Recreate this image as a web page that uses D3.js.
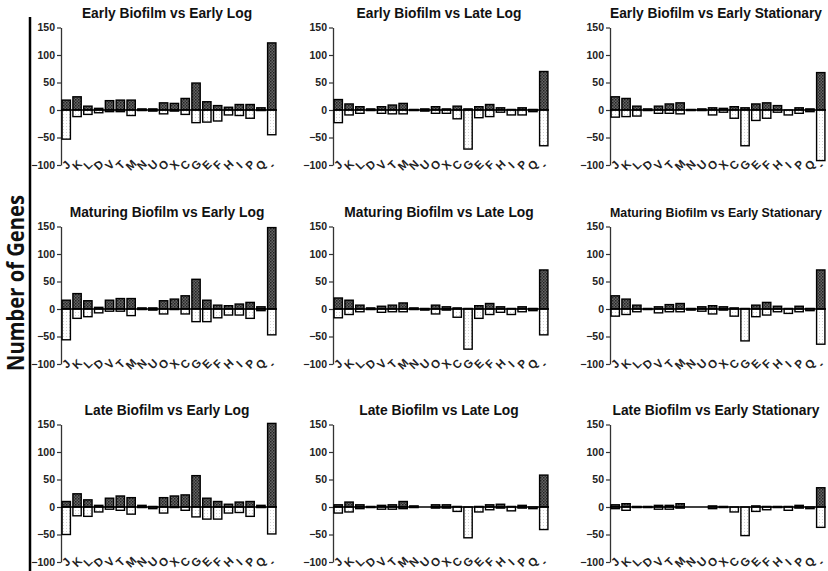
<!DOCTYPE html>
<html>
<head>
<meta charset="utf-8">
<script src="https://cdn.jsdelivr.net/npm/d3@7"></script>
<style>
body { margin: 0; background: #fff; }
</style>
</head>
<body>
<div id="chart"></div>
<script>
// categories COG
const categories = ["J","K","L","D","V","T","M","N","U","O","X","C","G","E","F","H","I","P","Q","-"];
const yTicks = [150, 100, 50, 0, -50, -100];
const titles = [
  "Early Biofilm vs Early Log", "Early Biofilm vs Late Log", "Early Biofilm vs Early Stationary",
  "Maturing Biofilm vs Early Log", "Maturing Biofilm vs Late Log", "Maturing Biofilm vs Early Stationary",
  "Late Biofilm vs Early Log", "Late Biofilm vs Late Log", "Late Biofilm vs Early Stationary"
];

// up = genes up, down = genes down
const upEarlyEL   = [18, 24, 7, 3, 17, 18, 18, 2, 2, 13, 12, 21, 49, 15, 8, 5, 10, 10, 4, 122];
const downEarlyEL = [-53, -12, -8, -5, -3, -3, -10, -1, -2, -7, -2, -8, -23, -22, -20, -9, -10, -15, -1, -45];
const upEarlyLL   = [19, 11, 6, 2, 6, 9, 12, 1, 2, 6, 2, 7, 2, 6, 10, 4, 1, 4, 1, 70];
const downEarlyLL = [-23, -9, -6, -1, -6, -7, -7, -1, -2, -6, -6, -16, -71, -14, -12, -4, -9, -9, -3, -65];
const upEarlyES   = [24, 21, 7, 2, 7, 11, 13, 1, 2, 4, 3, 6, 4, 11, 13, 8, 0, 4, 2, 68];
const downEarlyES = [-13, -12, -11, -1, -6, -6, -7, -1, -1, -9, -4, -15, -65, -19, -15, -4, -9, -6, -3, -92];

const upMatEL   = [16, 28, 15, 3, 16, 19, 19, 2, 2, 15, 18, 24, 54, 16, 7, 6, 9, 12, 4, 148];
const downMatEL = [-56, -17, -14, -7, -4, -4, -12, -1, -2, -9, -1, -9, -23, -23, -16, -11, -11, -17, -3, -47];
const upMatLL   = [20, 16, 7, 2, 5, 7, 11, 2, 1, 7, 4, 2, 1, 6, 10, 4, 1, 4, 1, 71];
const downMatLL = [-16, -10, -5, -1, -6, -5, -5, -1, -2, -9, -2, -15, -73, -17, -10, -6, -10, -5, -3, -47];
const upMatES   = [24, 18, 7, 1, 4, 8, 10, 1, 4, 6, 4, 2, 1, 7, 12, 5, 1, 5, 1, 71];
const downMatES = [-13, -10, -5, -1, -7, -5, -5, -2, -4, -9, -2, -13, -58, -14, -11, -5, -8, -5, -3, -64];

const upLateEL   = [10, 24, 13, 3, 16, 20, 17, 3, 1, 17, 20, 22, 57, 16, 10, 5, 9, 10, 3, 152];
const downLateEL = [-50, -16, -17, -9, -4, -6, -13, -1, -3, -11, -1, -6, -18, -22, -22, -11, -10, -17, -1, -49];
const upLateLL   = [4, 9, 4, 1, 3, 4, 10, 2, 0, 4, 4, 1, 0, 1, 4, 5, 1, 3, 0, 58];
const downLateLL = [-11, -9, -3, -1, -4, -4, -3, -1, 0, -2, -2, -8, -56, -9, -5, -2, -7, -2, -3, -41];
const upLateES   = [4, 6, 1, 1, 3, 3, 6, 0, 0, 2, 1, 0, 0, 2, 1, 1, 1, 3, 0, 35];
const downLateES = [-3, -6, -1, -1, -4, -4, -2, 0, 0, -3, -1, -9, -52, -8, -5, -1, -6, -2, -3, -37];

const panels = [
  [upEarlyEL, downEarlyEL], [upEarlyLL, downEarlyLL], [upEarlyES, downEarlyES],
  [upMatEL, downMatEL], [upMatLL, downMatLL], [upMatES, downMatES],
  [upLateEL, downLateEL], [upLateLL, downLateLL], [upLateES, downLateES]
];

// mise en page
const width = 828, height = 571;
const colX = [61, 333, 610];
const rowZero = [110, 309, 507];
const plotW = 216;

const svg = d3.select("#chart").append("svg")
  .attr("width", width)
  .attr("height", height)
  .style("font-family", "'Liberation Sans', Arial, sans-serif");

const defs = svg.append("defs");
const pDark = defs.append("pattern").attr("id", "darkFill")
  .attr("width", 3).attr("height", 3).attr("patternUnits", "userSpaceOnUse");
pDark.append("rect").attr("width", 3).attr("height", 3).attr("fill", "#656565");
pDark.append("rect").attr("width", 1.5).attr("height", 1.5).attr("fill", "#222");
pDark.append("rect").attr("x", 1.5).attr("y", 1.5).attr("width", 1.5).attr("height", 1.5).attr("fill", "#333");
const pLight = defs.append("pattern").attr("id", "lightFill")
  .attr("width", 3).attr("height", 3).attr("patternUnits", "userSpaceOnUse");
pLight.append("rect").attr("width", 3).attr("height", 3).attr("fill", "#fff");
pLight.append("rect").attr("width", 1).attr("height", 1).attr("fill", "#d4d4d4");

// grand axe a gauche
svg.append("line")
  .attr("x1", 30).attr("x2", 30).attr("y1", 17).attr("y2", height)
  .attr("stroke", "#000").attr("stroke-width", 2.5);
svg.append("text")
  .attr("transform", "translate(14.5,283) rotate(-90)")
  .attr("text-anchor", "middle")
  .attr("dominant-baseline", "central")
  .attr("textLength", 176)
  .attr("lengthAdjust", "spacingAndGlyphs")
  .style("font-family", "'Open Sans', sans-serif")
  .style("font-weight", "bold")
  .style("font-size", "23px")
  .attr("fill", "#111")
  .text("Number of Genes");

panels.forEach((p, i) => {
  const ax = colX[i % 3];
  const zero = rowZero[Math.floor(i / 3)];
  const up = p[0], down = p[1];

  const y = d3.scaleLinear().domain([-100, 150]).range([zero + 55, zero - 82.5]);
  const x = d3.scaleBand().domain(categories)
    .range([ax, ax + plotW])
    .paddingInner(0.23)
    .paddingOuter(0.1);

  const g = svg.append("g");

  const cx = ax + 106;
  const titre = g.append("text")
    .attr("x", cx)
    .attr("y", y(150) - 10)
    .attr("text-anchor", "middle")
    .style("font-weight", "bold")
    .style("font-size", "13.8px")
    .attr("fill", "#111")
    .text(titles[i]);
  // garder le titre dans la page : on reduit la taille si besoin
  const len = titre.node().getComputedTextLength();
  const dispo = 2 * (width - 6 - cx);
  if (len > dispo) {
    titre.style("font-size", (13.8 * dispo / len).toFixed(2) + "px");
  }

  const axeY = d3.axisLeft(y).tickValues(yTicks).tickSize(4).tickSizeOuter(0).tickPadding(2);
  const gy = g.append("g").attr("transform", `translate(${ax},0)`).call(axeY);
  gy.select(".domain").attr("stroke", "#333").attr("stroke-width", 1.3);
  gy.selectAll(".tick line").attr("stroke", "#333").attr("stroke-width", 1.2);
  gy.selectAll(".tick text")
    .style("font-size", "10.5px")
    .style("font-weight", "bold")
    .style("font-family", "'Liberation Sans', Arial, sans-serif")
    .attr("fill", "#222");

  // barres
  g.selectAll("rect.up").data(up).enter().append("rect")
    .attr("class", "up")
    .attr("x", (d, j) => x(categories[j]))
    .attr("y", d => y(d))
    .attr("width", x.bandwidth())
    .attr("height", d => y(0) - y(d))
    .attr("fill", "url(#darkFill)")
    .attr("stroke", "#000")
    .attr("stroke-width", 1.4);

  g.selectAll("rect.down").data(down).enter().append("rect")
    .attr("class", "down")
    .attr("x", (d, j) => x(categories[j]))
    .attr("y", y(0))
    .attr("width", x.bandwidth())
    .attr("height", d => y(d) - y(0))
    .attr("fill", "url(#lightFill)")
    .attr("stroke", "#000")
    .attr("stroke-width", 1.4);

  g.append("line")
    .attr("x1", ax).attr("x2", ax + plotW)
    .attr("y1", y(0)).attr("y2", y(0))
    .attr("stroke", "#000").attr("stroke-width", 1.5);

  // lettres de categories
  g.selectAll("text.cat").data(categories).enter().append("text")
    .attr("class", "cat")
    .attr("transform", d => `translate(${x(d) + x.bandwidth() / 2},${y(-100)}) rotate(-45)`)
    .attr("text-anchor", "middle")
    .attr("dominant-baseline", "central")
    .style("font-size", "11.5px")
    .style("font-weight", "bold")
    .attr("fill", "#222")
    .text(d => d);
});
</script>
</body>
</html>
